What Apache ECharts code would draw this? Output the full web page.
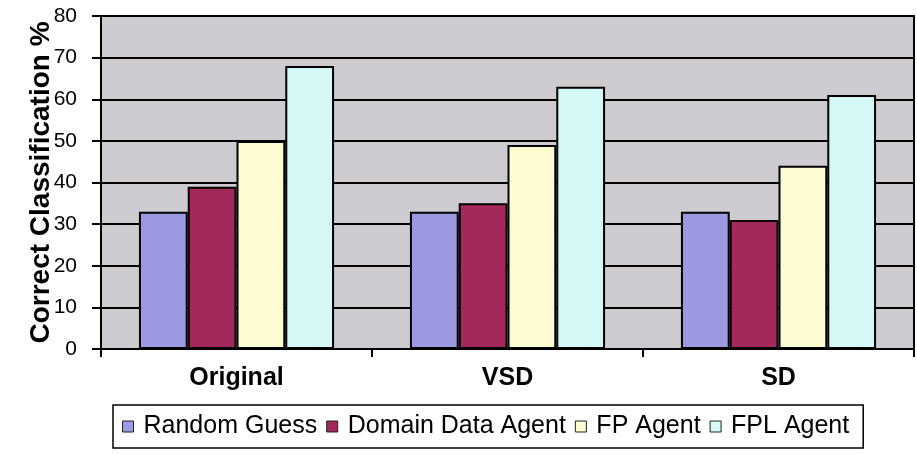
<!DOCTYPE html>
<html>
<head>
<meta charset="utf-8">
<script src="https://cdn.jsdelivr.net/npm/echarts@6/dist/echarts.min.js"></script>
<style>
  html, body { margin: 0; padding: 0; background: #ffffff; }
  #chart { width: 917px; height: 455px; }
</style>
</head>
<body>
<div id="chart"></div>
<script>
// data
var categories = ['Original', 'VSD', 'SD']
var randomGuess = [33, 33, 33]
var domainData = [39, 35, 31]
var fpAgent = [50, 49, 44]
var fplAgent = [68, 63, 61]

var seriesNames = ['Random Guess', 'Domain Data Agent', 'FP Agent', 'FPL Agent']
var seriesColors = ['#9a99e2', '#a3285b', '#fdfcd0', '#d4f8f5']
var seriesData = [randomGuess, domainData, fpAgent, fplAgent]

var chart = echarts.init(document.getElementById('chart'))

var series = seriesNames.map(function (name, i) {
  return {
    name: name,
    type: 'bar',
    barGap: '0%',
    barCategoryGap: '28%',
    data: seriesData[i],
    itemStyle: {
      color: seriesColors[i],
      borderColor: '#000',
      borderWidth: 2
    }
  }
})

chart.setOption({
  animation: false,
  textStyle: { fontFamily: 'Liberation Sans, Arial, sans-serif', color: '#000' },
  grid: {
    left: 101,
    right: 3,
    top: 16,
    bottom: 106,
    show: true,
    backgroundColor: '#cdcbcf',
    borderColor: '#000',
    borderWidth: 2
  },
  legend: {
    data: seriesNames,
    icon: 'rect',
    left: 113,
    top: 405,
    padding: [9, 14, 9, 9],
    itemGap: 9,
    itemWidth: 11,
    itemHeight: 11,
    borderColor: '#000',
    borderWidth: 1.5,
    itemStyle: { borderColor: '#222', borderWidth: 1 },
    textStyle: { fontSize: 25, color: '#000', padding: [0, 0, 0, 5] }
  },
  xAxis: {
    type: 'category',
    data: categories,
    axisLine: { lineStyle: { color: '#000', width: 2 } },
    axisTick: { show: true, length: 8, lineStyle: { color: '#000', width: 2 } },
    axisLabel: { fontSize: 25, fontWeight: 'bold', color: '#000', margin: 17 }
  },
  yAxis: {
    type: 'value',
    min: 0,
    max: 80,
    interval: 10,
    name: 'Correct Classification %',
    nameLocation: 'middle',
    nameRotate: 90,
    nameGap: 46,
    nameMoveOverlap: false,
    nameTextStyle: { fontSize: 28, fontWeight: 'bold', color: '#000' },
    axisLine: { show: true, lineStyle: { color: '#000', width: 2 } },
    axisTick: { show: true, length: 9, lineStyle: { color: '#000', width: 2 } },
    axisLabel: { fontSize: 21, color: '#000', margin: 24 },
    splitLine: { lineStyle: { color: '#000', width: 2 } }
  },
  series: series
})
</script>
</body>
</html>
